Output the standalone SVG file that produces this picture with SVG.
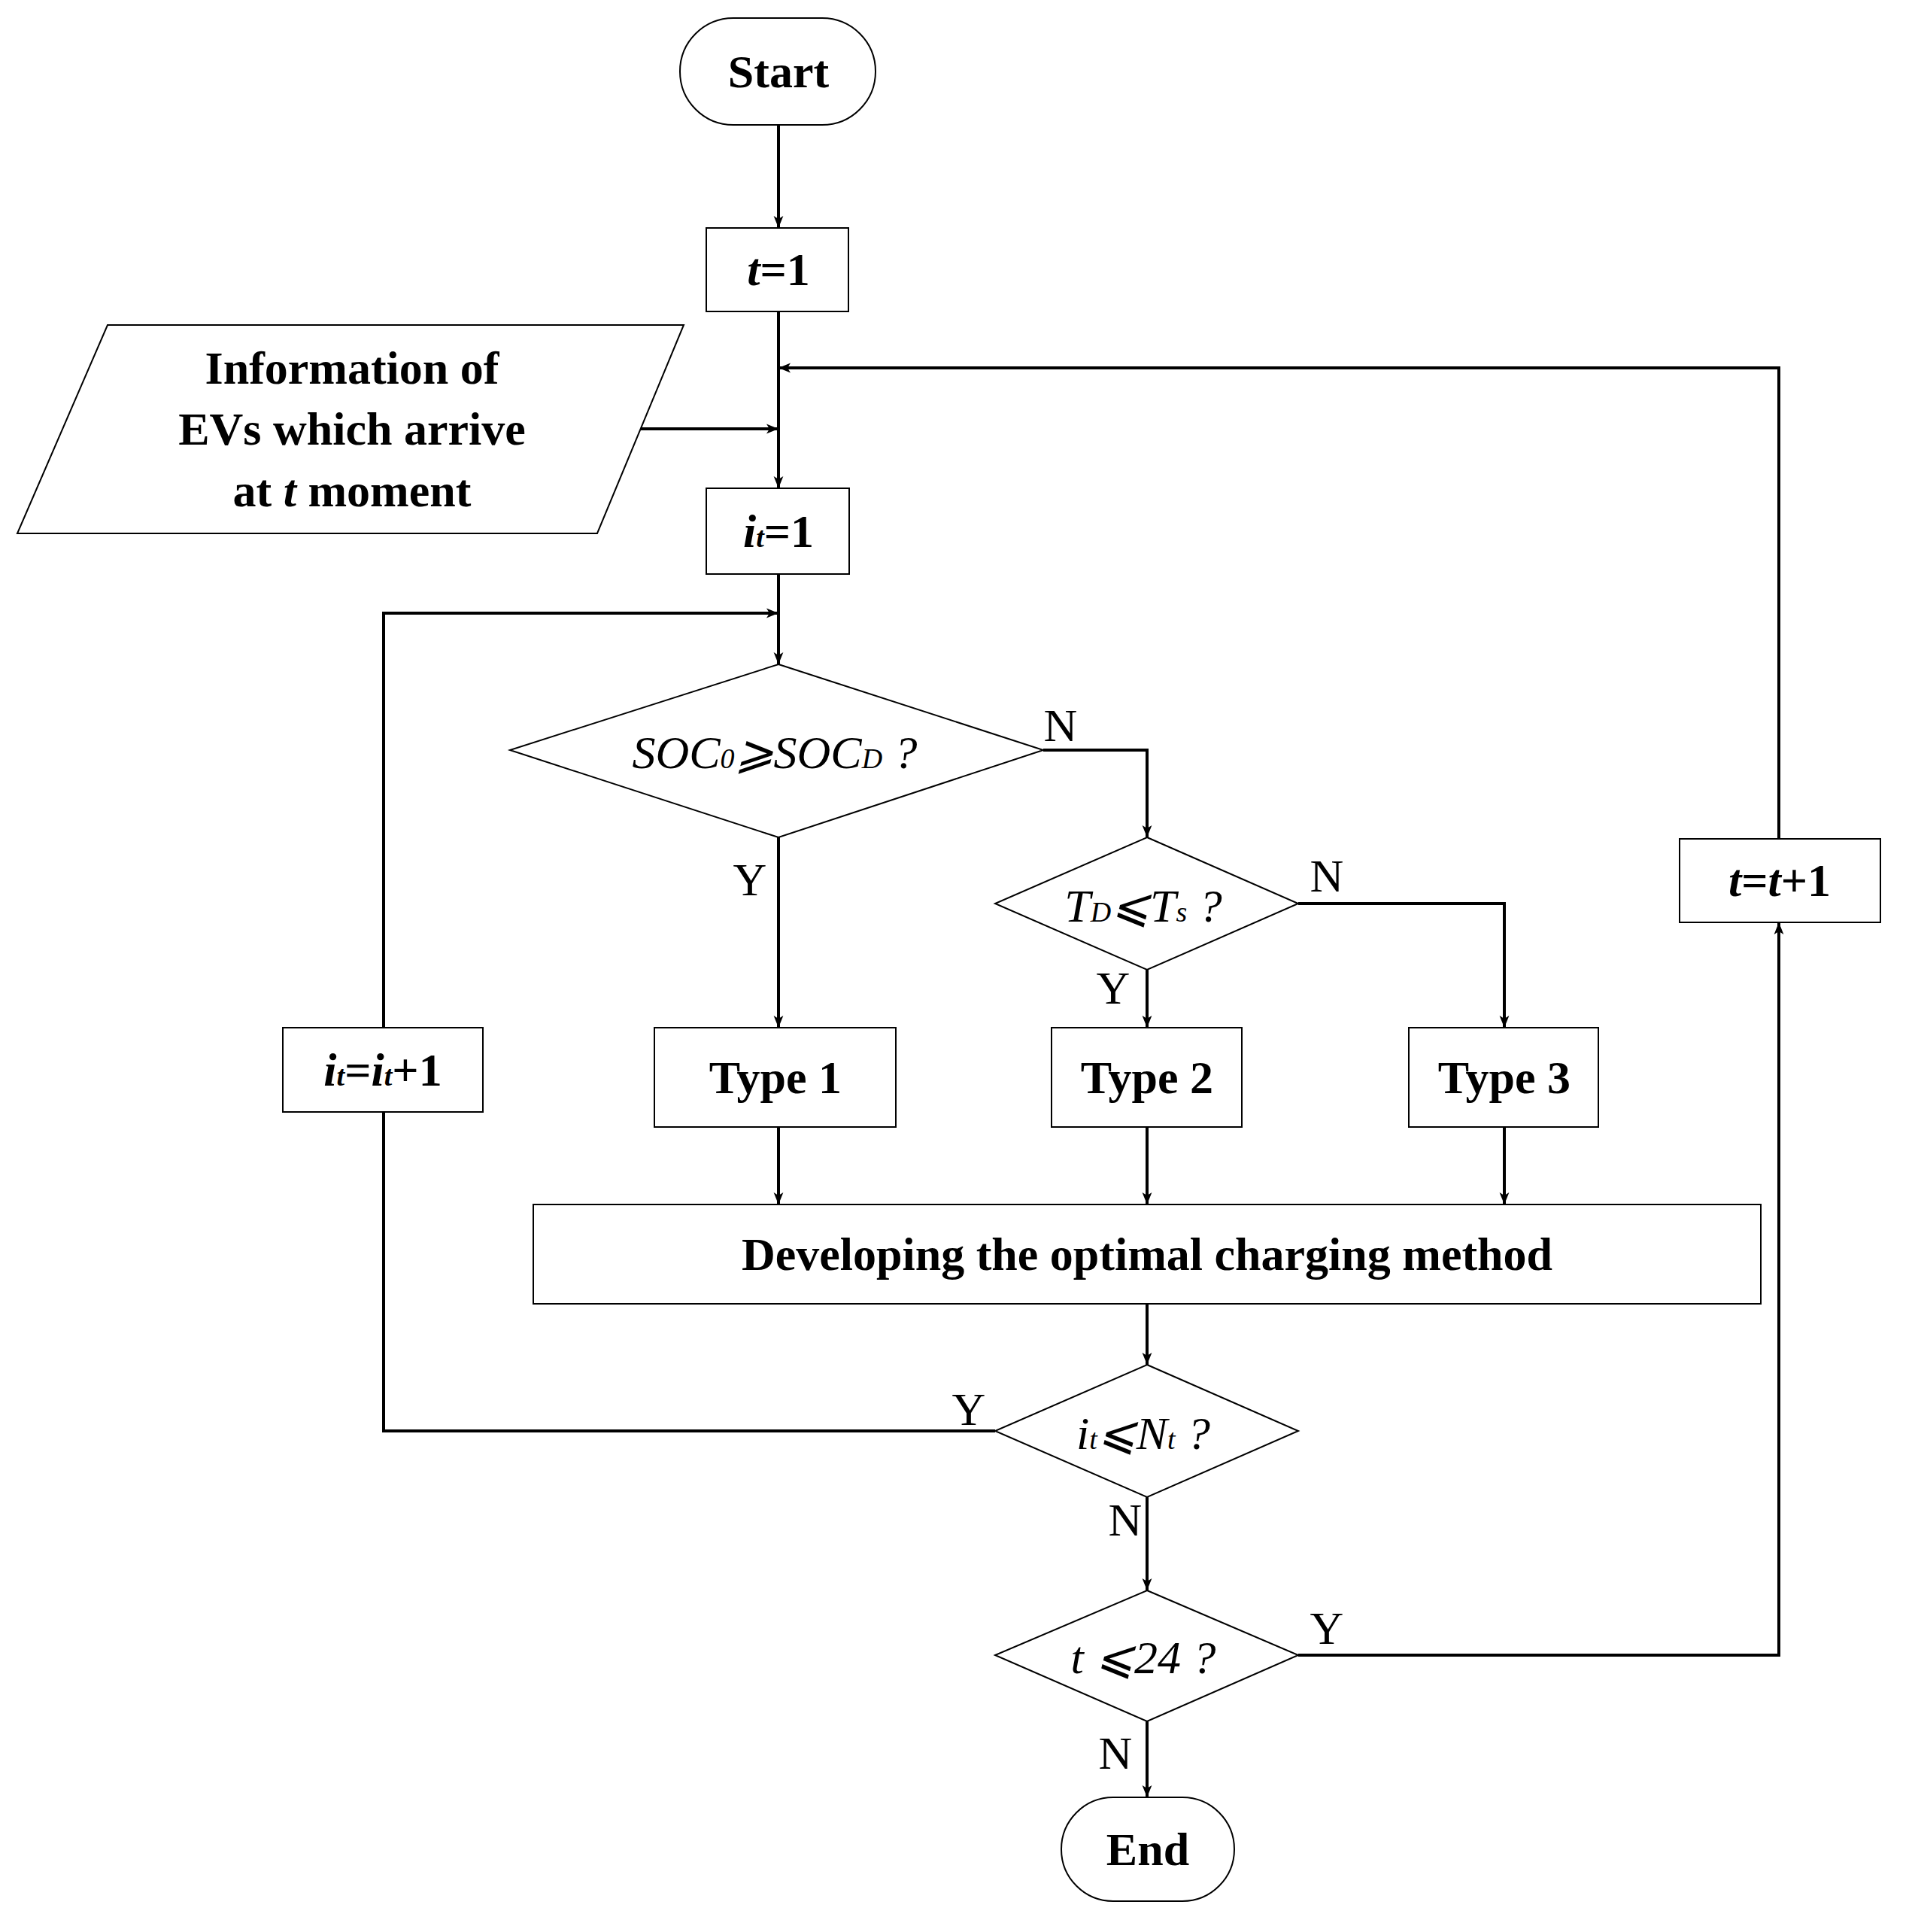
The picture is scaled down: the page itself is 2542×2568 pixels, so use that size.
<svg xmlns="http://www.w3.org/2000/svg" width="2542" height="2568" viewBox="0 0 2542 2568">
<style>
.s{fill:#fff;stroke:#000;stroke-width:2}
.t{font-family:"Liberation Serif",serif;font-size:62px;font-weight:bold;text-anchor:middle;dominant-baseline:central}
.i{font-style:italic}
.n{font-weight:normal}
.l{font-family:"Liberation Serif",serif;font-size:62px;text-anchor:middle}
.c{fill:none;stroke:#000;stroke-width:4}
</style>
<defs>
<marker id="b" viewBox="0 0 20 30" refX="20" refY="10" markerWidth="36" markerHeight="24" orient="auto" markerUnits="userSpaceOnUse"><path d="M0,2 L20,10 L0,18 L5,10 Z"/></marker></defs>
<rect width="2542" height="2568" fill="#fff"/>
<g id="connectors" class="c">
<path d="M1035,166 V303" marker-end="url(#b)"/>
<path d="M1035,414 V649" marker-end="url(#b)"/>
<path d="M851,570 H1035" marker-end="url(#b)"/>
<path d="M1035,763 V883" marker-end="url(#b)"/>
<path d="M2365,1115 V489 H1035" marker-end="url(#b)"/>
<path d="M510,1366 V815 H1035" marker-end="url(#b)"/>
<path d="M1387,997 H1525 V1113" marker-end="url(#b)"/>
<path d="M1035,1113 V1366" marker-end="url(#b)"/>
<path d="M1525,1289 V1366" marker-end="url(#b)"/>
<path d="M1726,1201 H2000 V1366" marker-end="url(#b)"/>
<path d="M1035,1498 V1601" marker-end="url(#b)"/>
<path d="M1525,1498 V1601" marker-end="url(#b)"/>
<path d="M2000,1498 V1601" marker-end="url(#b)"/>
<path d="M1525,1733 V1814" marker-end="url(#b)"/>
<path d="M1323,1902 H510 V1478"/>
<path d="M1525,1990 V2114" marker-end="url(#b)"/>
<path d="M1726,2200 H2365 V1226" marker-end="url(#b)"/>
<path d="M1525,2288 V2389" marker-end="url(#b)"/>
</g>
<g id="start"><rect class="s" x="904" y="24" width="260" height="142" rx="71"/><text class="t" x="1035" y="95">Start</text></g>
<g id="t1"><rect class="s" x="939" y="303" width="189" height="111"/><text class="t" x="1035" y="358"><tspan class="i">t</tspan>=1</text></g>
<g id="info"><polygon class="s" points="143,432 909,432 794,709 23,709"/><text class="t" x="468" y="489">Information of</text><text class="t" x="468" y="570">EVs which arrive</text><text class="t" x="468" y="652">at <tspan class="i">t</tspan> moment</text></g>
<g id="it1"><rect class="s" x="939" y="649" width="190" height="114"/><text class="t" x="1035" y="706"><tspan class="i">i<tspan font-size="38" dy="8">t</tspan></tspan><tspan dy="-8">=1</tspan></text></g>
<g id="d1"><polygon class="s" points="1035,883 1387,997 1035,1113 678,997"/><text class="t i n" x="1030" y="1000">SOC<tspan font-size="38" dy="8">0</tspan><tspan dy="-8">⩾SOC</tspan><tspan font-size="38" dy="8">D</tspan><tspan dy="-8"> ?</tspan></text></g>
<g id="d2"><polygon class="s" points="1525,1113 1726,1201 1525,1289 1323,1201"/><text class="t i n" x="1520" y="1204">T<tspan font-size="38" dy="8">D</tspan><tspan dy="-8">⩽T</tspan><tspan font-size="38" dy="8">s</tspan><tspan dy="-8"> ?</tspan></text></g>
<g id="type1"><rect class="s" x="870" y="1366" width="321" height="132"/><text class="t" x="1031" y="1432">Type 1</text></g>
<g id="type2"><rect class="s" x="1398" y="1366" width="253" height="132"/><text class="t" x="1525" y="1432">Type 2</text></g>
<g id="type3"><rect class="s" x="1873" y="1366" width="252" height="132"/><text class="t" x="2000" y="1432">Type 3</text></g>
<g id="develop"><rect class="s" x="709" y="1601" width="1632" height="132"/><text class="t" x="1525" y="1667">Developing the optimal charging method</text></g>
<g id="inc"><rect class="s" x="376" y="1366" width="266" height="112"/><text class="t" x="509" y="1422"><tspan class="i">i<tspan font-size="38" dy="8">t</tspan></tspan><tspan dy="-8">=</tspan><tspan class="i">i<tspan font-size="38" dy="8">t</tspan></tspan><tspan dy="-8">+1</tspan></text></g>
<g id="d3"><polygon class="s" points="1525,1814 1726,1902 1525,1990 1323,1902"/><text class="t i n" x="1520" y="1905">i<tspan font-size="38" dy="8">t</tspan><tspan dy="-8">⩽N</tspan><tspan font-size="38" dy="8">t</tspan><tspan dy="-8"> ?</tspan></text></g>
<g id="d4"><polygon class="s" points="1525,2114 1726,2200 1525,2288 1323,2200"/><text class="t i n" x="1520" y="2203">t ⩽24 ?</text></g>
<g id="tinc"><rect class="s" x="2233" y="1115" width="267" height="111"/><text class="t" x="2366" y="1170"><tspan class="i">t</tspan>=<tspan class="i">t</tspan>+1</text></g>
<g id="end"><rect class="s" x="1411" y="2389" width="230" height="138" rx="69"/><text class="t" x="1526" y="2458">End</text></g>
<g id="labels">
<text class="l" x="1410" y="985">N</text>
<text class="l" x="997" y="1190">Y</text>
<text class="l" x="1764" y="1185">N</text>
<text class="l" x="1480" y="1334">Y</text>
<text class="l" x="1288" y="1894">Y</text>
<text class="l" x="1496" y="2041">N</text>
<text class="l" x="1764" y="2185">Y</text>
<text class="l" x="1483" y="2351">N</text>
</g>
</svg>
